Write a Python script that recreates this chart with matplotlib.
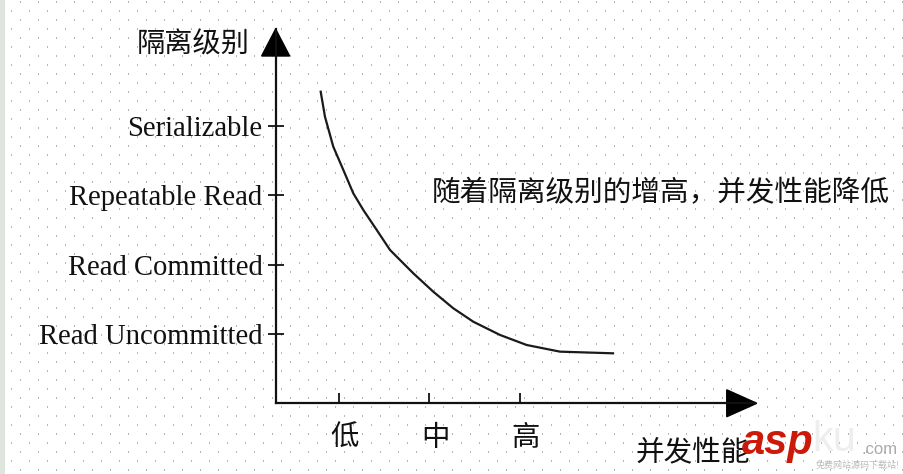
import numpy as np
import matplotlib.pyplot as plt
from matplotlib.patches import Polygon
from matplotlib.transforms import ScaledTranslation

plt.rcParams['font.family'] = ['Noto Sans CJK SC', 'DejaVu Sans']

# isolation levels (y) and concurrency levels (x)
levels = ['Read Uncommitted', 'Read Committed', 'Repeatable Read', 'Serializable']
level_pos = [1, 2, 3, 4]
perf_labels = ['低', '中', '高']
perf_pos = [1, 2, 3]

# curve
curve_x = [0.798, 0.845, 0.937, 1.048, 1.158, 1.269, 1.417, 1.564, 1.674, 1.821,
           2.042, 2.263, 2.484, 2.779, 3.074, 3.442, 4.028]
curve_y = [4.496, 4.136, 3.703, 3.367, 3.030, 2.789, 2.501, 2.212, 2.068, 1.876,
           1.610, 1.371, 1.177, 0.986, 0.841, 0.745, 0.721]

W, H = 904, 474
fig = plt.figure(figsize=(W / 100, H / 100), dpi=100)

# dotted paper background
bg = np.ones((H, W, 3))
for row, y in enumerate(range(1, H, 9)):
    start = 2 if row % 2 == 0 else 11
    bg[y:y + 2, start::18] = 0.72
bg[:, :5] = [0.87, 0.9, 0.87]
fig.figimage(bg, 0, 0, origin='upper', zorder=-10)

ax = fig.add_axes([0.3049, 0.1492, 0.5306, 0.7895])
ax.set_zorder(5)
ax.set_xlim(0.3, 5.6)
ax.set_ylim(0, 5.4)
ax.patch.set_alpha(0)
for s in ['top', 'right']:
    ax.spines[s].set_visible(False)
for s in ['left', 'bottom']:
    ax.spines[s].set_linewidth(1.6)
    ax.spines[s].set_color('#111111')

ax.plot(curve_x, curve_y, color='#1a1a1a', lw=1.6)

ax.set_yticks(level_pos, levels, fontfamily='Liberation Serif', fontsize=20.6, color='#111111')
ax.tick_params(axis='y', direction='inout', length=11, width=1.3, pad=4, color='#111111')
ax.set_xticks(perf_pos, perf_labels, fontsize=20.5, color='#111111')
ax.tick_params(axis='x', direction='in', length=7, width=1.3, pad=14, color='#111111')
# labels sit a little right of their ticks in the original
nudge = ScaledTranslation(4 / 72, 0, fig.dpi_scale_trans)
for lab in ax.get_xticklabels():
    lab.set_transform(lab.get_transform() + nudge)

# arrow heads
ax.add_patch(Polygon([[0, 1], [-0.0292, 0.928], [0.0292, 0.928]], closed=True,
                     transform=ax.transAxes, clip_on=False, color='black'))
ax.add_patch(Polygon([[1.003, 0], [0.9405, 0.036], [0.9405, -0.036]], closed=True,
                     transform=ax.transAxes, clip_on=False, color='black'))

ax.text(0.017, 5.17, '隔离级别', ha='right', va='center', fontsize=20.3, color='#111111', clip_on=False)
ax.text(2.03, 3.03, '随着隔离级别的增高，并发性能降低', ha='left', va='center',
        fontsize=20.6, color='#111111')
ax.text(4.28, -0.717, '并发性能', ha='left', va='center', fontsize=20.6, color='#111111', clip_on=False)

# site watermark
fig.text(742 / W, 1 - 443 / H, 'asp', fontsize=30, fontweight='bold', fontstyle='italic',
         family='Liberation Sans', color='#cc1a0a', va='center', ha='left', zorder=10)
fig.text(812 / W, 1 - 440 / H, 'ku', fontsize=30, family='Liberation Sans',
         color='#eeeeee', va='center', ha='left', zorder=10)
fig.text(862 / W, 1 - 449 / H, '.com', fontsize=12, family='Liberation Sans',
         color='#aaaaaa', va='center', ha='left', zorder=10)
fig.text(816 / W, 1 - 465 / H, '免费网站源码下载站!', fontsize=6.5, color='#bbbbbb',
         va='center', ha='left', zorder=10)

fig.savefig('out.png', dpi=100)
